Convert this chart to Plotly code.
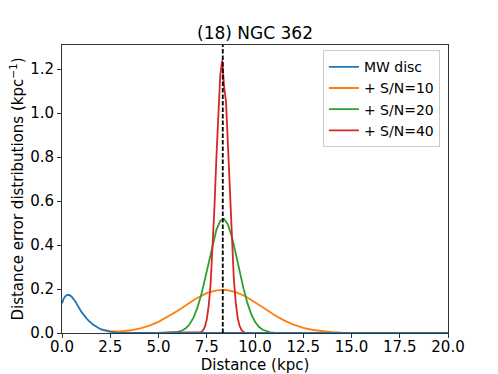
import plotly.graph_objects as go

# ---- data ----
mw_x = [0.0, 0.1, 0.2, 0.3, 0.4, 0.5, 0.7, 1.0, 1.3, 1.6, 2.0, 2.4, 2.8, 3.2, 20.0]
mw_y = [0.135, 0.158, 0.170, 0.174, 0.172, 0.165, 0.142, 0.097, 0.063, 0.039, 0.017, 0.007, 0.002, 0.0, 0.0]

sn10_x = [2.0, 2.5, 3.0, 3.5, 4.0, 4.5, 5.0, 5.5, 6.0, 6.5, 7.0, 7.5, 8.0, 8.5, 9.0, 9.5,
          10.0, 10.5, 11.0, 11.5, 12.0, 12.5, 13.0, 13.5, 14.0, 14.5, 15.0, 16.0, 20.0]
sn10_y = [0.018, 0.008, 0.007, 0.0113, 0.0198, 0.0326, 0.0506, 0.0739, 0.101, 0.131, 0.159, 0.181,
          0.194, 0.196, 0.186, 0.167, 0.140, 0.111, 0.082, 0.0575, 0.0378, 0.0234, 0.0137, 0.0074,
          0.0038, 0.0018, 0.0008, 0.0001, 0.0]

sn20_x = [5.0, 5.8, 6.0, 6.2, 6.4, 6.6, 6.8, 7.0, 7.2, 7.4, 7.6, 7.8, 8.0, 8.2, 8.4, 8.6, 8.8,
          9.0, 9.2, 9.4, 9.6, 9.8, 10.0, 10.2, 10.4, 10.6, 10.8, 11.0, 11.2, 20.0]
sn20_y = [0.0, 0.0021, 0.0048, 0.0102, 0.0206, 0.0386, 0.0677, 0.111, 0.169, 0.242, 0.322, 0.402,
          0.469, 0.510, 0.519, 0.493, 0.438, 0.363, 0.281, 0.204, 0.138, 0.087, 0.0515, 0.0284,
          0.0147, 0.0071, 0.0032, 0.0013, 0.0005, 0.0]

sn40_x = [5.0, 7.2, 7.3, 7.4, 7.5, 7.6, 7.7, 7.8, 7.9, 8.0, 8.1, 8.2, 8.3, 8.4, 8.5, 8.6, 8.7,
          8.8, 8.9, 9.0, 9.1, 9.2, 9.3, 9.4, 9.5, 20.0]
sn40_y = [0.0, 0.004, 0.0115, 0.0277, 0.061, 0.123, 0.224, 0.376, 0.573, 0.798, 1.013, 1.173,
          1.24, 1.12, 1.050, 0.843, 0.617, 0.412, 0.251, 0.139, 0.070, 0.033, 0.0137, 0.005, 0.0, 0.0]

cluster_distance = 8.33
x_ticks = [0.0, 2.5, 5.0, 7.5, 10.0, 12.5, 15.0, 17.5, 20.0]
y_ticks = [0.0, 0.2, 0.4, 0.6, 0.8, 1.0, 1.2]
x_range = [0, 20]
y_range = [0, 1.31]

FONT = "DejaVu Sans"
LW = 1.8

fig = go.Figure()
fig.add_trace(go.Scatter(x=sn10_x, y=sn10_y, mode="lines", name="+ S/N=10",
                         line=dict(color="#ff7f0e", width=LW), legendrank=2))
fig.add_trace(go.Scatter(x=sn20_x, y=sn20_y, mode="lines", name="+ S/N=20",
                         line=dict(color="#2ca02c", width=LW), legendrank=3))
fig.add_trace(go.Scatter(x=sn40_x, y=sn40_y, mode="lines", name="+ S/N=40",
                         line=dict(color="#d62728", width=LW), legendrank=4))
fig.add_trace(go.Scatter(x=mw_x, y=mw_y, mode="lines", name="MW disc",
                         line=dict(color="#1f77b4", width=LW), legendrank=1))
fig.add_trace(go.Scatter(x=[cluster_distance, cluster_distance], y=y_range, mode="lines",
                         showlegend=False,
                         line=dict(color="black", width=LW, dash="4.5px,2px")))

axis_common = dict(showgrid=False, zeroline=False, showline=True, mirror=True,
                   linecolor="#333333", linewidth=1, ticks="outside", ticklen=4,
                   tickcolor="#333333", tickwidth=1, automargin=False,
                   tickfont=dict(family=FONT, size=15, color="black"))

fig.update_xaxes(range=x_range, tickvals=x_ticks, ticktext=[f"{v:.1f}" for v in x_ticks],
                 ticklabelstandoff=-4,
                 title=dict(text="Distance (kpc)", font=dict(family=FONT, size=15, color="black"),
                            standoff=9),
                 **axis_common)
fig.update_yaxes(range=y_range, tickvals=y_ticks, ticktext=[f"{v:.1f}" for v in y_ticks],
                 title=dict(text="Distance error distributions (kpc<sup>−1</sup>)",
                            font=dict(family=FONT, size=15, color="black"), standoff=2),
                 **axis_common)

fig.update_layout(
    width=498, height=374,
    margin=dict(l=62, r=50, t=45, b=41, autoexpand=False),
    paper_bgcolor="white", plot_bgcolor="white",
    font=dict(family=FONT, size=15, color="black"),
    title=dict(text="(18) NGC 362", x=0.5, xanchor="center", xref="paper",
               y=1 - 33 / 374, yanchor="middle", automargin=False,
               font=dict(family=FONT, size=17, color="black")),
    legend=dict(x=0.979, xanchor="right", y=0.982, yanchor="top",
                bgcolor="rgba(255,255,255,0.8)", bordercolor="#cccccc", borderwidth=1,
                font=dict(family=FONT, size=14, color="black"),
                traceorder="normal", itemwidth=30, tracegroupgap=0),
    showlegend=True,
)

fig.write_html("out.html", config={"displayModeBar": False},
               post_script="document.body.style.margin='0px';")
